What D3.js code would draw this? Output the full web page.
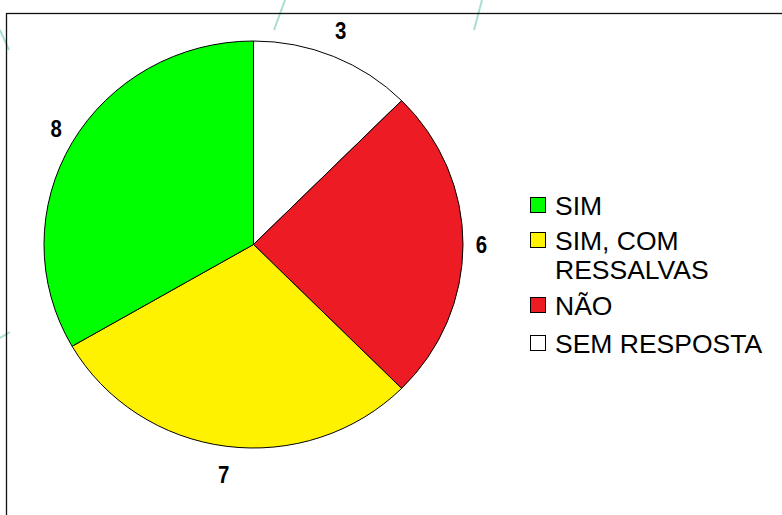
<!DOCTYPE html>
<html>
<head>
<meta charset="utf-8">
<script src="https://cdn.jsdelivr.net/npm/d3@7"></script>
<style>
  html, body { margin: 0; padding: 0; background: #fff; }
  svg { display: block; }
</style>
</head>
<body>
<svg id="chart" width="782" height="515"></svg>
<script>
// Data (legend order)
const categories = ["SIM", "SIM, COM RESSALVAS", "NÃO", "SEM RESPOSTA"];
const values = [8, 7, 6, 3];
const colors = ["#00FF00", "#FFF200", "#ED1C24", "#FFFFFF"];
const legendLines = [["SIM"], ["SIM, COM", "RESSALVAS"], ["NÃO"], ["SEM RESPOSTA"]];

const svg = d3.select("#chart");

// faint decorative lines of the slide background
const deco = svg.append("g").attr("stroke", "#A8DDD3").attr("stroke-width", 2).attr("fill", "none");
deco.append("line").attr("x1", 285).attr("y1", 0).attr("x2", 274).attr("y2", 30);
deco.append("line").attr("x1", 482).attr("y1", 0).attr("x2", 474).attr("y2", 30);
deco.append("line").attr("x1", 0).attr("y1", 30).attr("x2", 9).attr("y2", 50);
deco.append("line").attr("x1", 0).attr("y1", 338).attr("x2", 10).attr("y2", 332);

// chart frame
svg.append("rect")
  .attr("x", 6.5).attr("y", 13.5)
  .attr("width", 800).attr("height", 520)
  .attr("fill", "none").attr("stroke", "#111").attr("stroke-width", 1.3);

const cx = 253.5, cy = 244.5, rx = 209.5, ry = 203.5;

// pie order: clockwise from 12 o'clock, reverse of legend order
const order = d3.range(categories.length).reverse();
const pie = d3.pie().sort(null).value(i => values[i]);
const arcs = pie(order);

const arc = d3.arc().innerRadius(0).outerRadius(rx);

const pieG = svg.append("g")
  .attr("transform", `translate(${cx},${cy}) scale(1,${ry / rx})`);

pieG.selectAll("path")
  .data(arcs)
  .join("path")
  .attr("d", arc)
  .attr("fill", d => colors[d.data])
  .attr("stroke", "#000")
  .attr("stroke-width", 1)
  .attr("vector-effect", "non-scaling-stroke");

// value labels outside
const labelArc = d3.arc().innerRadius(1).outerRadius(1);
const lx = rx + 18.5, ly = 232;
svg.append("g")
  .selectAll("text")
  .data(arcs)
  .join("text")
  .attr("transform", d => {
    const c = labelArc.centroid(d);
    return `translate(${cx + c[0] * lx},${cy + c[1] * ly + 8.5}) scale(0.85,1)`;
  })
  .attr("text-anchor", "middle")
  .attr("font-family", "'Liberation Sans', Arial, sans-serif")
  .attr("font-weight", "bold")
  .attr("font-size", 24)
  .attr("fill", "#000")
  .text(d => values[d.data]);

// legend
const legendBaselines = [[215], [250, 279], [315], [353]];
const leg = svg.append("g");
categories.forEach((c, i) => {
  const b = legendBaselines[i][0];
  leg.append("rect")
    .attr("x", 530.5).attr("y", b - 17.5)
    .attr("width", 15).attr("height", 15)
    .attr("fill", colors[i]).attr("stroke", "#000").attr("stroke-width", 1);
  legendLines[i].forEach((t, j) => {
    leg.append("text")
      .attr("x", 555)
      .attr("y", legendBaselines[i][j])
      .attr("font-family", "'Liberation Sans', Arial, sans-serif")
      .attr("font-size", 26.5)
      .attr("fill", "#000")
      .text(t);
  });
});
</script>
</body>
</html>
